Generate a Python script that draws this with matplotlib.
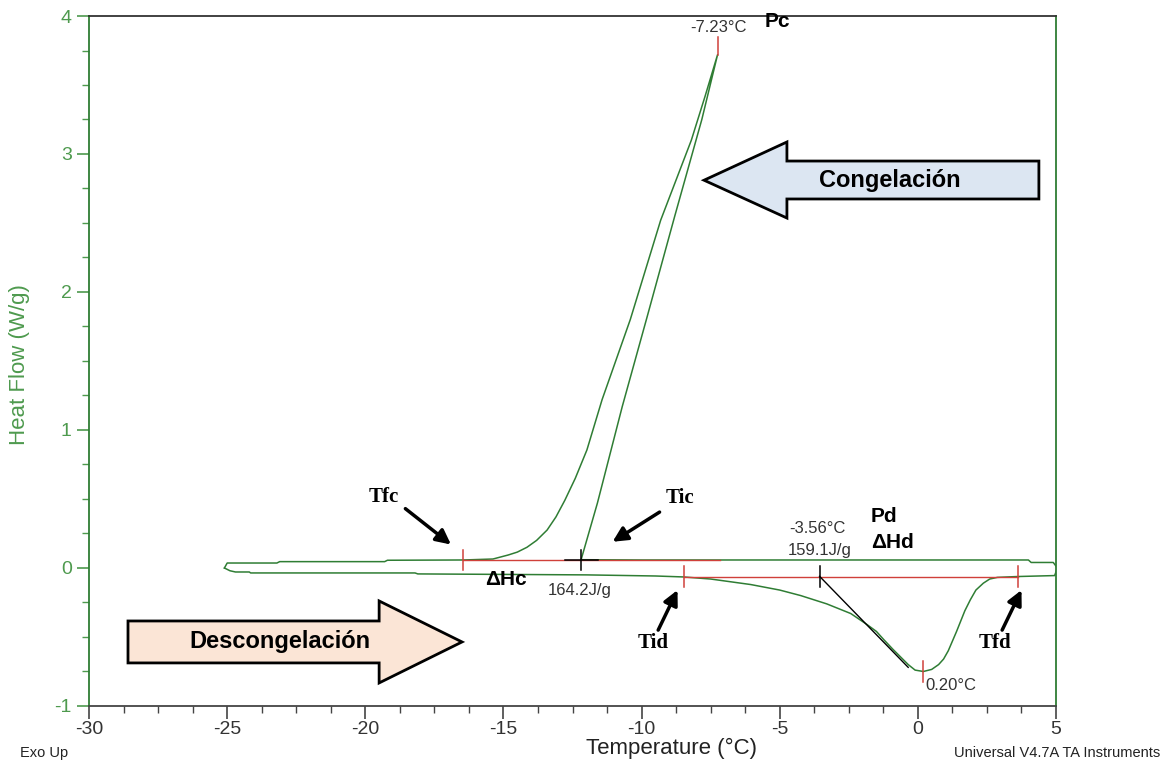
import matplotlib
matplotlib.use("Agg")
import matplotlib.pyplot as plt
from matplotlib.patches import Polygon
from matplotlib.ticker import MultipleLocator

plt.rcParams['font.family'] = ['Liberation Sans', 'DejaVu Sans']
plt.rcParams['axes.unicode_minus'] = False

# Enfriamiento: de 5 a -25 °C (rama superior con el pico de congelación)
enfr_T = [5.05, 4.9, 4.1, 4.0, 0.0, -5.0, -10.0, -12.19, -11.6, -10.7, -9.8, -8.8,
          -7.82, -7.25, -7.7, -8.2, -9.31, -10.41, -11.43, -11.98, -12.4, -12.78, -13.1,
          -13.42, -13.8, -14.15, -14.5, -14.83, -15.38, -16.45, -19.2, -19.3, -23.1,
          -23.2, -25.0, -25.1]
enfr_HF = [0.0, 0.04, 0.04, 0.058, 0.058, 0.058, 0.058, 0.06, 0.47, 1.17, 1.82, 2.55,
           3.25, 3.72, 3.42, 3.1, 2.52, 1.80, 1.22, 0.855, 0.65, 0.49, 0.37,
           0.275, 0.2, 0.15, 0.115, 0.094, 0.065, 0.058, 0.056, 0.046, 0.046,
           0.036, 0.036, 0.0]

# Calentamiento: de -25 a 5 °C (rama inferior con el pico de descongelación)
calen_T = [-25.1, -24.9, -24.7, -24.2, -24.15, -18.2, -18.1, -12.0, -9.5, -8.48, -7.5,
           -6.05, -5.0, -4.24, -3.3, -2.43, -1.84, -1.5, -1.23, -0.9, -0.6, -0.35, -0.1,
           0.2, 0.5, 0.75, 0.93, 1.1, 1.25, 1.4, 1.54, 1.7, 1.9, 2.1, 2.37, 2.6, 2.88,
           3.6, 4.95, 5.05]
calen_HF = [0.0, -0.02, -0.029, -0.029, -0.036, -0.036, -0.043, -0.05, -0.058, -0.065, -0.08,
            -0.12, -0.16, -0.20, -0.26, -0.33, -0.41, -0.46, -0.52, -0.59, -0.65, -0.70, -0.74,
            -0.75, -0.735, -0.70, -0.66, -0.60, -0.53, -0.46, -0.39, -0.31, -0.23, -0.16, -0.11,
            -0.08, -0.068, -0.062, -0.055, 0.0]

# Resultados del análisis
T_fc, T_ic, T_pc, HF_pc, T_fin_linea_c, HF_base_c = -16.45, -12.19, -7.23, 3.72, -7.15, 0.058
T_id, T_fd, T_onset_d, T_pd, HF_pd, HF_base_d = -8.48, 3.62, -3.56, 0.20, -0.75, -0.062
tangente_T = [-3.56, -0.35]
tangente_HF = [-0.06, -0.72]

verde = '#2f7d34'
verde_eje = '#4e9a4e'
rojo = '#d0403a'
gris = '#333333'

fig = plt.figure(figsize=(11.67, 7.73), dpi=100)
ax = fig.add_axes([0.0763, 0.0867, 0.8286, 0.8926])

ax.plot(enfr_T, enfr_HF, color=verde, lw=1.1)
ax.plot(calen_T, calen_HF, color=verde, lw=1.1)

# lineas base de integración
ax.plot([T_fc, T_fin_linea_c], [HF_base_c, HF_base_c], color=rojo, lw=1.0)
ax.plot([T_id, T_fd], [HF_base_d, HF_base_d], color=rojo, lw=1.0)
ax.plot(tangente_T, tangente_HF, color='black', lw=1.0)

# marcas
h = 0.075
for t, y, c in [(T_fc, HF_base_c, rojo), (T_ic, HF_base_c, 'black'),
                (T_id, HF_base_d, rojo), (T_fd, HF_base_d, rojo),
                (T_onset_d, HF_base_d, 'black'), (T_pd, HF_pd, rojo)]:
    ax.plot([t, t], [y - h, y + h], color=c, lw=1.1)
ax.plot([T_ic - 0.6, T_ic + 0.6], [HF_base_c, HF_base_c], color='black', lw=1.1)
ax.plot([T_pc, T_pc], [HF_pc, HF_pc + 0.13], color=rojo, lw=1.1)

# textos de resultados
ax.text(T_pc, HF_pc + 0.2, '-7.23°C', ha='center', va='center', fontsize=12, color=gris)
ax.text(-5.55, 3.96, 'Pc', ha='left', va='center', fontsize=15, fontweight='bold')
ax.text(-12.25, -0.16, '164.2J/g', ha='center', va='center', fontsize=12, color=gris)
ax.text(-14.9, -0.085, 'ΔHc', ha='center', va='center', fontsize=15, fontweight='bold')
ax.text(-3.65, 0.285, '-3.56°C', ha='center', va='center', fontsize=12, color=gris)
ax.text(-3.55, 0.13, '159.1J/g', ha='center', va='center', fontsize=12, color=gris)
ax.text(-1.7, 0.37, 'Pd', ha='left', va='center', fontsize=15, fontweight='bold')
ax.text(-1.7, 0.185, 'ΔHd', ha='left', va='center', fontsize=15, fontweight='bold')
ax.text(0.28, -0.85, '0.20°C', ha='left', va='center', fontsize=12, color=gris)

# etiquetas con flechas
serif = dict(family='Liberation Serif', fontsize=15, fontweight='bold')
flecha = dict(arrowstyle='-|>', lw=2.5, color='black', mutation_scale=22, shrinkA=0, shrinkB=0)
ax.annotate('', xy=(-16.9, 0.17), xytext=(-18.55, 0.43), arrowprops=flecha)
ax.text(-19.35, 0.515, 'Tfc', ha='center', va='center', **serif)
ax.annotate('', xy=(-11.05, 0.19), xytext=(-9.35, 0.405), arrowprops=flecha)
ax.text(-8.6, 0.51, 'Tic', ha='center', va='center', **serif)
ax.annotate('', xy=(-8.7, -0.16), xytext=(-9.4, -0.45), arrowprops=flecha)
ax.text(-9.6, -0.545, 'Tid', ha='center', va='center', **serif)
ax.annotate('', xy=(3.75, -0.16), xytext=(3.05, -0.45), arrowprops=flecha)
ax.text(2.8, -0.545, 'Tfd', ha='center', va='center', **serif)

# flechas de bloque
congel = Polygon([(-7.74, 2.81), (-4.74, 3.087), (-4.74, 2.949), (4.38, 2.949),
                  (4.38, 2.674), (-4.74, 2.674), (-4.74, 2.536)],
                 closed=True, facecolor='#dce6f2', edgecolor='black', lw=2)
ax.add_patch(congel)
ax.text(-1.0, 2.81, 'Congelación', ha='center', va='center', fontsize=17, fontweight='bold')
descon = Polygon([(-28.59, -0.384), (-19.5, -0.384), (-19.5, -0.239), (-16.5, -0.536),
                  (-19.5, -0.833), (-19.5, -0.688), (-28.59, -0.688)],
                 closed=True, facecolor='#fbe5d6', edgecolor='black', lw=2)
ax.add_patch(descon)
ax.text(-23.1, -0.536, 'Descongelación', ha='center', va='center', fontsize=17, fontweight='bold')

# ejes
ax.set_xlim(-30, 5)
ax.set_ylim(-1, 4)
ax.xaxis.set_major_locator(MultipleLocator(5))
ax.xaxis.set_minor_locator(MultipleLocator(1.25))
ax.yaxis.set_major_locator(MultipleLocator(1))
ax.yaxis.set_minor_locator(MultipleLocator(0.25))
ax.tick_params(axis='both', which='major', direction='out', length=9, width=1.2, labelsize=14)
ax.tick_params(axis='both', which='minor', direction='out', length=5, width=1)
ax.tick_params(axis='x', which='both', colors='#444444', labelcolor='#333333')
ax.tick_params(axis='y', which='both', colors=verde_eje, labelcolor=verde_eje)
ax.tick_params(axis='x', which='major', pad=2)
ax.spines['left'].set_color(verde)
ax.spines['right'].set_color(verde)
ax.spines['top'].set_color('#333333')
ax.spines['bottom'].set_color('#444444')
for s in ax.spines.values():
    s.set_linewidth(1.3)

fig.text(672 / 1167, 1 - 748 / 773, 'Temperature (°C)', ha='center', va='center', fontsize=16, color='#222222')
fig.text(20 / 1167, 1 - 365 / 773, 'Heat Flow (W/g)', ha='center', va='center', rotation=90,
         fontsize=16, color=verde_eje)
fig.text(20 / 1167, 1 - 753 / 773, 'Exo Up', ha='left', va='center', fontsize=10.5, color='#222222')
fig.text(1160 / 1167, 1 - 753 / 773, 'Universal V4.7A TA Instruments', ha='right', va='center',
         fontsize=10.5, color='#222222')

fig.savefig('out.png', dpi=100)
